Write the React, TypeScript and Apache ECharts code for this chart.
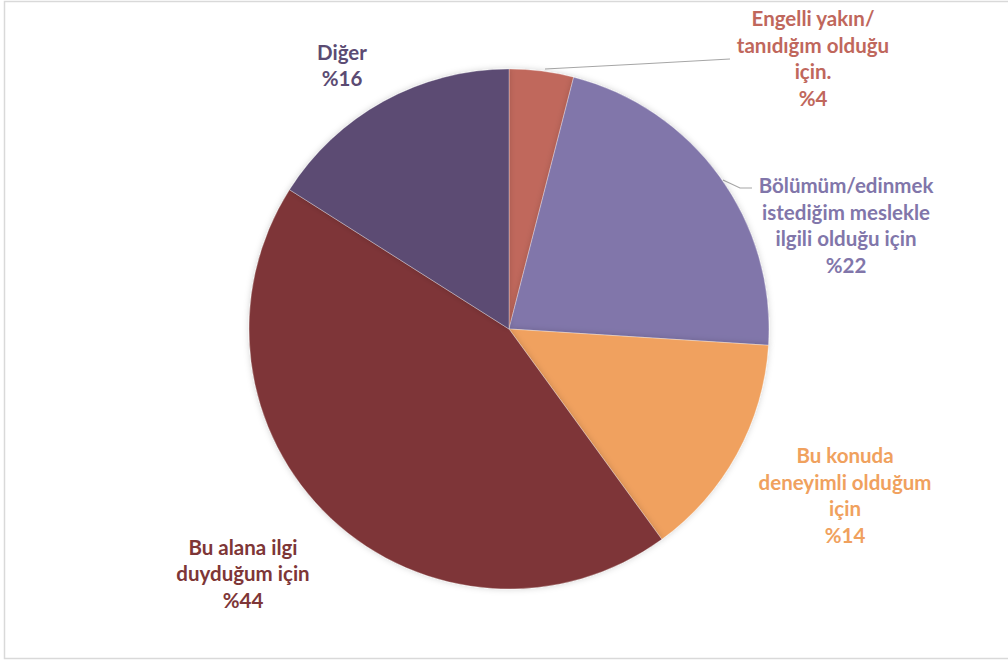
import React, { useEffect, useRef } from "react";
import * as echarts from "echarts";

const categories = [
  "Engelli yakın/\ntanıdığım olduğu\niçin.",
  "Bölümüm/edinmek\nistediğim meslekle\nilgili olduğu için",
  "Bu konuda\ndeneyimli olduğum\niçin",
  "Bu alana ilgi\nduyduğum için",
  "Diğer",
];
const values = [4, 22, 14, 44, 16];
const colors = ["#C0675C", "#8176AA", "#F0A15E", "#7E3637", "#5B4B73"];

// label anchor positions (centre of each label block)
const labelPos: [number, number][] = [
  [813, 58],
  [846, 225],
  [845, 495],
  [243, 573],
  [342, 65],
];
const labelLines: ([number, number][] | null)[] = [
  [[545, 69], [640, 64], [730, 59]],
  [[723, 180], [740, 188], [752, 188]],
  null,
  null,
  null,
];

export default function App() {
  const ref = useRef<HTMLDivElement>(null);
  useEffect(() => {
    if (!ref.current) return;
    const chart = echarts.init(ref.current, undefined, { renderer: "svg" });
    chart.setOption({
      animation: false,
      backgroundColor: "#ffffff",
      graphic: [
        {
          type: "rect",
          shape: { x: 4.5, y: 1.5, width: 1010, height: 657 },
          style: { fill: "none", stroke: "#d9d9d9", lineWidth: 1.5 },
          silent: true,
        },
      ],
      series: [
        {
          type: "pie",
          center: [509, 329],
          radius: 260,
          startAngle: 90,
          clockwise: true,
          data: values.map((v, i) => ({
            name: categories[i],
            value: v,
            itemStyle: { color: colors[i] },
            label: { color: colors[i] },
          })),
          itemStyle: {
            borderColor: "rgba(255,255,255,0.5)",
            borderWidth: 0.6,
            shadowBlur: 6,
            shadowColor: "rgba(0,0,0,0.18)",
          },
          label: {
            show: true,
            position: "outside",
            formatter: (p: any) => p.name + "\n%" + p.value,
            fontFamily: "Lato",
            fontWeight: "bold",
            fontSize: 20.5,
            lineHeight: 26.5,
            align: "center",
          },
          labelLine: {
            show: true,
            lineStyle: { color: "#a6a6a6", width: 1.2 },
          },
          labelLayout: (params: any) => {
            const i = params.dataIndex;
            const [x, y] = labelPos[i];
            const res: any = { x, y, align: "center", verticalAlign: "middle" };
            const pts = labelLines[i];
            if (pts) res.labelLinePoints = pts;
            else res.labelLinePoints = [[x, y], [x, y], [x, y]];
            return res;
          },
        },
      ],
    });
    return () => chart.dispose();
  }, []);
  return (
    <div
      ref={ref}
      style={{ position: "fixed", left: 0, top: 0, width: 1008, height: 662 }}
    />
  );
}
